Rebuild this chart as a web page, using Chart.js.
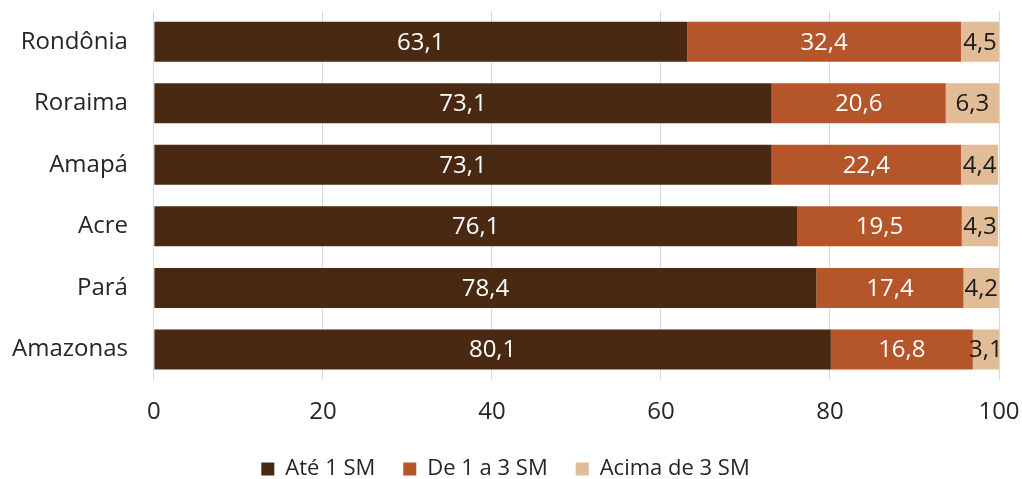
<!DOCTYPE html>
<html>
<head>
<meta charset="utf-8">
<script src="https://cdn.jsdelivr.net/npm/chart.js@4"></script>
<style>
  html, body { margin: 0; padding: 0; background: #fff; }
  #wrap { width: 1022px; height: 479px; }
</style>
</head>
<body>
<div id="wrap"><canvas id="renda"></canvas></div>
<script>
const estados = ['Rondônia', 'Roraima', 'Amapá', 'Acre', 'Pará', 'Amazonas'];
const ate1 = [63.1, 73.1, 73.1, 76.1, 78.4, 80.1];
const de1a3 = [32.4, 20.6, 22.4, 19.5, 17.4, 16.8];
const acima3 = [4.5, 6.3, 4.4, 4.3, 4.2, 3.1];
const xTicks = [0, 20, 40, 60, 80, 100];

const fonte = "'Open Sans', 'Noto Sans', sans-serif";

// write each value inside its bar segment
const rotulos = {
    id: 'rotulos',
    afterDatasetsDraw(chart) {
        const ctx = chart.ctx;
        ctx.save();
        ctx.font = '24px ' + fonte;
        ctx.textAlign = 'center';
        ctx.textBaseline = 'middle';
        chart.data.datasets.forEach((ds, i) => {
            const meta = chart.getDatasetMeta(i);
            meta.data.forEach((bar, j) => {
                const txt = ds.data[j].toFixed(1).replace('.', ',');
                const cx = (bar.x + bar.base) / 2;
                ctx.fillStyle = ds.labelColor;
                ctx.fillText(txt, cx, bar.y + 1);
            });
        });
        ctx.restore();
    }
};

// nudge the legend a little lower once the layout is done
const legendaAbaixo = {
    id: 'legendaAbaixo',
    afterLayout(chart) {
        if (chart.legend) {
            chart.legend.top += 3;
            chart.legend.bottom += 3;
        }
    }
};

const grafico = new Chart(document.getElementById('renda'), {
    type: 'bar',
    data: {
        labels: estados,
        datasets: [
            { label: 'Até 1 SM', data: ate1, backgroundColor: '#4a2912', labelColor: '#ffffff' },
            { label: 'De 1 a 3 SM', data: de1a3, backgroundColor: '#b4552a', labelColor: '#ffffff' },
            { label: 'Acima de 3 SM', data: acima3, backgroundColor: '#e2bc96', labelColor: '#1a1a1a' }
        ]
    },
    options: {
        indexAxis: 'y',
        responsive: true,
        maintainAspectRatio: false,
        animation: false,
        categoryPercentage: 0.65,
        barPercentage: 1,
        layout: { autoPadding: false, padding: { top: 11, right: 23, left: 12, bottom: 0 } },
        scales: {
            x: {
                stacked: true,
                min: 0,
                max: 100,
                afterBuildTicks: (axis) => { axis.ticks = xTicks.map(v => ({ value: v })); },
                afterFit: (axis) => {
                    axis.paddingLeft = 0;
                    axis.paddingRight = 0;
                    axis.height -= 18;
                },
                grid: { color: '#d9d9d9', lineWidth: 1, drawTicks: false },
                border: { display: false },
                ticks: { color: '#262626', font: { family: fonte, size: 24 }, padding: 18 }
            },
            y: {
                stacked: true,
                afterFit: (axis) => {
                    axis.paddingTop = 0;
                    axis.paddingBottom = 0;
                    axis.width -= 26;
                },
                grid: { display: false, drawTicks: false },
                border: { display: false },
                ticks: { color: '#262626', font: { family: fonte, size: 24 }, padding: 26 }
            }
        },
        plugins: {
            legend: {
                position: 'bottom',
                labels: {
                    color: '#262626',
                    font: { family: fonte, size: 22 },
                    boxWidth: 13,
                    boxHeight: 13,
                    padding: 28
                }
            },
            tooltip: { enabled: false }
        }
    },
    plugins: [rotulos, legendaAbaixo]
});

// legend keeps its wide horizontal gaps but takes less height
const fitOriginal = grafico.legend.fit;
grafico.legend.fit = function () {
    fitOriginal.call(this);
    this.height = Math.min(this.height, 52);
};
grafico.update();
</script>
</body>
</html>
